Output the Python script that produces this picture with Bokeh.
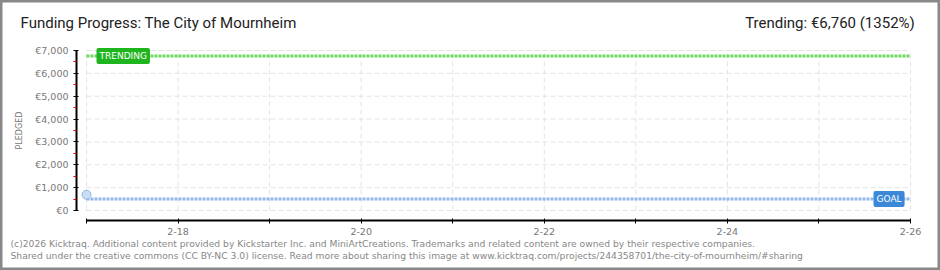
import pandas as pd
from bokeh.plotting import figure
from bokeh.models import FixedTicker, Label, Range1d
from bokeh.embed import file_html
from bokeh.resources import INLINE

# ---------------- data ----------------
title_text = "Funding Progress: The City of Mournheim"
trend_text = "Trending:  €6,760 (1352%)"
footer_lines = [
    "(c)2026 Kicktraq. Additional content provided by Kickstarter Inc. and MiniArtCreations. Trademarks and related content are owned by their respective companies.",
    "Shared under the creative commons (CC BY-NC 3.0) license. Read more about sharing this image at www.kicktraq.com/projects/244358701/the-city-of-mournheim/#sharing",
]
days = ["2026-02-17", "2026-02-18", "2026-02-19", "2026-02-20", "2026-02-21",
        "2026-02-22", "2026-02-23", "2026-02-24", "2026-02-25", "2026-02-26"]
day_labels = ["", "2-18", "", "2-20", "", "2-22", "", "2-24", "", "2-26"]
pledge_dates = ["2026-02-17"]
pledge_values = [690]
goal = 500
trending = 6760
y_ticks = [0, 1000, 2000, 3000, 4000, 5000, 6000, 7000]
y_minor = [500, 1500, 2500, 3500, 4500, 5500, 6500]
y_labels = ["€0", "€1,000", "€2,000", "€3,000", "€4,000", "€5,000", "€6,000", "€7,000"]


def ms(s):
    return pd.Timestamp(s).value // 10**6


day_ms = [ms(d) for d in days]
pledge_ms = [ms(d) for d in pledge_dates]
x0, x1 = day_ms[0], day_ms[-1]
span = [x0, x1]

# ---------------- layout geometry (pixels) ----------------
W, H = 940, 270
PX_LEFT, PX_RIGHT = 86, 910          # where first / last day sit
PX_Y0, PX_YTOP = 210, 50             # where 0 / top tick sit
AX_X, AX_Y = 76, 220                 # axis lines
ppx = (x1 - x0) / (PX_RIGHT - PX_LEFT)                 # data per px (x)
ppy = (y_ticks[-1] - y_ticks[0]) / (PX_Y0 - PX_YTOP)    # data per px (y)

x_range = Range1d(x0 - PX_LEFT * ppx, x1 + (W - PX_RIGHT) * ppx)
y_range = Range1d(y_ticks[0] - (H - PX_Y0) * ppy, y_ticks[-1] + PX_YTOP * ppy)

FONT = "DejaVu Sans"
p = figure(width=W, height=H, output_backend="svg", toolbar_location=None,
           x_range=x_range, y_range=y_range,
           min_border=0, min_border_left=0, min_border_right=0,
           min_border_top=0, min_border_bottom=0,
           background_fill_color="white", border_fill_color="white")
p.outline_line_color = "#888888"
p.outline_line_width = 4
p.xgrid.visible = False
p.ygrid.visible = False

# grid lines drawn from tick arrays, bounded to the data span
grid_col = "#e3e3e3"
p.segment(x0=[x0] * len(y_ticks), x1=[x1] * len(y_ticks), y0=y_ticks, y1=y_ticks,
          line_color=grid_col, line_width=1, line_dash="5 3")
p.segment(x0=day_ms, x1=day_ms, y0=[y_ticks[0]] * len(day_ms), y1=[y_ticks[-1]] * len(day_ms),
          line_color=grid_col, line_width=1, line_dash="5 3")

# goal & trending lines
p.line(span, [goal, goal], line_color="#93b8e6", line_width=3, line_dash="3 1")
p.line(span, [trending, trending], line_color="#6bd85e", line_width=3, line_dash="3 1")

# pledged point
p.scatter(pledge_ms, pledge_values, size=9, fill_color="#c8ddf6", line_color="#90b6e6", line_width=1)

# axes (placed inside the canvas at fixed locations)
ax = p.xaxis[0]
ax.fixed_location = y_ticks[0] - (AX_Y - PX_Y0) * ppy
ax.ticker = FixedTicker(ticks=day_ms, minor_ticks=[])
ax.major_label_overrides = {t: l for t, l in zip(day_ms, day_labels)}
ax.bounds = (x0, x1)
ax.axis_line_width = 2
ax.axis_line_color = "black"
ax.major_tick_in = 2
ax.major_tick_out = 3
ax.major_tick_line_width = 1
ax.major_tick_line_color = "black"
ax.major_label_text_font = FONT
ax.major_label_text_font_size = "9.5px"
ax.major_label_text_color = "#777777"
ax.major_label_standoff = 4

ay = p.yaxis[0]
ay.fixed_location = x0 - (PX_LEFT - AX_X) * ppx
ay.ticker = FixedTicker(ticks=y_ticks, minor_ticks=y_minor)
ay.major_label_overrides = {t: l for t, l in zip(y_ticks, y_labels)}
ay.bounds = (y_ticks[0], y_ticks[-1])
ay.axis_line_width = 2
ay.axis_line_color = "black"
ay.major_tick_in = 2
ay.major_tick_out = 3
ay.major_tick_line_color = "black"
ay.minor_tick_in = 0
ay.minor_tick_out = 3
ay.minor_tick_line_color = "#e00000"
ay.minor_tick_line_width = 1
ay.major_label_text_font = FONT
ay.major_label_text_font_size = "9.5px"
ay.major_label_text_color = "#777777"
ay.major_label_standoff = 5
ay.axis_label = "PLEDGED"
ay.axis_label_text_font = FONT
ay.axis_label_text_font_size = "8px"
ay.axis_label_text_font_style = "normal"
ay.axis_label_text_color = "#777777"
ay.axis_label_standoff = 8

# tags on the lines
p.add_layout(Label(x=x0, y=trending, x_offset=10, text="TRENDING",
                   text_font=FONT, text_font_size="9px", text_color="white",
                   text_baseline="middle", text_align="left",
                   background_fill_color="#1fb51f", padding=3, border_radius=2))
p.add_layout(Label(x=x1, y=goal, x_offset=-37, text="GOAL",
                   text_font=FONT, text_font_size="9px", text_color="white",
                   text_baseline="middle", text_align="left",
                   background_fill_color="#3b88d8", padding=3, border_radius=2))

# header (screen units: from canvas left, y up from canvas bottom)
p.add_layout(Label(x=20, y=H - 22, x_units="screen", y_units="screen", text=title_text,
                   text_font="Roboto", text_font_size="15px", text_color="#222222",
                   text_baseline="middle", text_align="left"))
p.add_layout(Label(x=918, y=H - 22, x_units="screen", y_units="screen", text=trend_text,
                   text_font="Roboto", text_font_size="15px", text_color="#222222",
                   text_baseline="middle", text_align="right"))

# footer
for i, line in enumerate(footer_lines):
    p.add_layout(Label(x=10, y=H - 243 - 12 * i, x_units="screen", y_units="screen", text=line,
                       text_font=FONT, text_font_size="9.2px", text_color="#888888",
                       text_baseline="middle", text_align="left"))

open("out.html", "w").write(file_html(p, INLINE))
